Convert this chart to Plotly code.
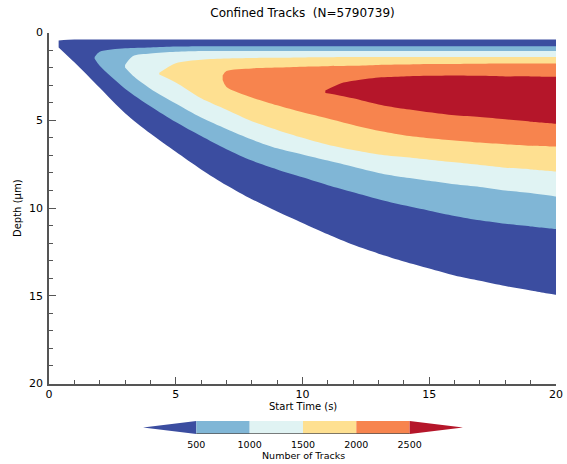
import plotly.graph_objects as go

# ---- data (depth boundaries in µm for each count level) ----
levels = [500, 1000, 1500, 2000, 2500]
band_colors = ["#3b4da0", "#80b6d6", "#e0f3f3", "#fee091", "#f7844e", "#b5162a"]

# region with any tracks
t0 = [0.38, 1, 2, 3, 4, 5, 6, 7, 8, 9, 10, 11, 12, 13, 14, 15, 16, 17, 18, 19, 20]
top0 = [0.45] + [0.4] * 20
bot0 = [0.85, 1.7, 3.15, 4.6, 5.76, 6.8, 7.8, 8.7, 9.5, 10.2, 10.85, 11.5, 12.1,
        12.6, 13.05, 13.45, 13.85, 14.15, 14.45, 14.7, 14.95]

# > 500 tracks
t1 = [1.8, 2, 3, 4, 5, 6, 7, 8, 9, 10, 11, 12, 13, 14, 15, 16, 17, 18, 19, 20]
top1 = [1.4, 1.1, 0.9, 0.85, 0.8] + [0.78] * 15
bot1 = [1.5, 1.9, 3.2, 4.2, 5.1, 5.9, 6.65, 7.3, 7.8, 8.25, 8.7, 9.1, 9.5, 9.85,
        10.15, 10.45, 10.7, 10.9, 11.05, 11.2]

# > 1000 tracks
t2 = [3.0, 3.3, 4, 5, 6, 7, 8, 9, 10, 11, 12, 13, 14, 15, 16, 17, 18, 19, 20]
top2 = [1.85, 1.35, 1.2, 1.1] + [1.05] * 15
bot2 = [2.0, 2.45, 3.2, 4.05, 4.85, 5.5, 6.1, 6.6, 6.95, 7.3, 7.65, 8.0, 8.25, 8.45,
        8.65, 8.8, 9.0, 9.15, 9.35]

# > 1500 tracks
t3 = [4.35, 5, 6, 7, 8, 9, 10, 11, 12, 13, 14, 15, 16, 17, 18, 19, 20]
top3 = [2.3, 1.75, 1.55, 1.48, 1.45, 1.44, 1.42, 1.41, 1.4, 1.4, 1.4, 1.4, 1.39,
        1.39, 1.39, 1.39, 1.39]
bot3 = [2.4, 2.85, 3.75, 4.4, 5.05, 5.55, 6.0, 6.4, 6.7, 6.95, 7.1, 7.25, 7.4, 7.55,
        7.7, 7.8, 7.92]

# > 2000 tracks
t4 = [6.85, 7, 8, 9, 10, 11, 12, 13, 14, 15, 16, 17, 18, 19, 20]
top4 = [2.45, 2.2, 2.05, 2.0, 1.95, 1.92, 1.9, 1.85, 1.83, 1.8, 1.79, 1.78, 1.77,
        1.76, 1.76]
bot4 = [2.7, 3.1, 3.7, 4.15, 4.55, 4.9, 5.27, 5.6, 5.85, 6.02, 6.15, 6.27, 6.37,
        6.45, 6.5]

# > 2500 tracks
t5 = [10.9, 11.5, 12, 13, 14, 15, 16, 17, 18, 19, 20]
top5 = [3.3, 2.9, 2.75, 2.56, 2.5, 2.47, 2.45, 2.47, 2.5, 2.5, 2.52]
bot5 = [3.45, 3.6, 3.75, 4.1, 4.35, 4.55, 4.72, 4.82, 4.95, 5.08, 5.2]

regions = [(t0, top0, bot0), (t1, top1, bot1), (t2, top2, bot2),
           (t3, top3, bot3), (t4, top4, bot4), (t5, top5, bot5)]

W, H = 567, 464
AX = "#555555"
FONT = "DejaVu Sans"

fig = go.Figure()

for (t, top, bot), col in zip(regions, band_colors):
    t, top, bot = list(t), list(top), list(bot)
    # repeat the right-edge corner points so the smoothed outline keeps square corners there
    xs = t + [t[-1], t[-1]] + t[::-1]
    ys = top + [top[-1], bot[-1]] + bot[::-1]
    fig.add_trace(go.Scatter(
        x=xs, y=ys,
        mode="lines", fill="toself", fillcolor=col,
        line=dict(width=0, color=col, shape="spline", smoothing=0.8),
        hoverinfo="skip", showlegend=False,
        xaxis="x", yaxis="y"))

# ---- horizontal colorbar with extension triangles ----
step = levels[1] - levels[0]
lo_tip = levels[0] - step
hi_tip = levels[-1] + step
fig.add_trace(go.Scatter(x=[lo_tip, levels[0], levels[0], lo_tip], y=[0.5, 1, 0, 0.5],
                         mode="lines", fill="toself", fillcolor=band_colors[0],
                         line=dict(width=0, color=band_colors[0]),
                         hoverinfo="skip", showlegend=False, xaxis="x2", yaxis="y2"))
for i in range(len(levels) - 1):
    a, b = levels[i], levels[i + 1]
    c = band_colors[i + 1]
    fig.add_trace(go.Scatter(x=[a, b, b, a, a], y=[0, 0, 1, 1, 0],
                             mode="lines", fill="toself", fillcolor=c,
                             line=dict(width=0, color=c),
                             hoverinfo="skip", showlegend=False,
                             xaxis="x2", yaxis="y2"))
fig.add_trace(go.Scatter(x=[levels[-1], hi_tip, levels[-1], levels[-1]], y=[0, 0.5, 1, 0],
                         mode="lines", fill="toself", fillcolor=band_colors[-1],
                         line=dict(width=0, color=band_colors[-1]),
                         hoverinfo="skip", showlegend=False, xaxis="x2", yaxis="y2"))
fig.add_trace(go.Scatter(x=[levels[0], levels[-1]], y=[0, 0], mode="lines",
                         line=dict(width=1.5, color=AX),
                         hoverinfo="skip", showlegend=False, xaxis="x2", yaxis="y2"))

px_x = lambda p: p / W
px_y = lambda p: 1 - p / H

fig.update_layout(
    width=W, height=H, autosize=False,
    margin=dict(l=0, r=0, t=0, b=0),
    paper_bgcolor="white", plot_bgcolor="white",
    font=dict(family=FONT, color="black", size=11),
    title=dict(text="Confined Tracks\u00a0\u00a0(N=5790739)",
               x=px_x(302.5), xref="paper", xanchor="center",
               y=px_y(13), yref="container", yanchor="middle",
               font=dict(size=12, family=FONT)),
    xaxis=dict(domain=[px_x(49), px_x(556)], range=[0, 20], anchor="y",
               tickmode="linear", tick0=0, dtick=5,
               ticks="inside", ticklen=7, tickwidth=1, tickcolor=AX,
               minor=dict(dtick=1, ticks="inside", ticklen=4, tickwidth=1, tickcolor=AX),
               showline=True, linecolor=AX, linewidth=1.5,
               showgrid=False, zeroline=False, automargin=False,
               tickfont=dict(size=11), fixedrange=True),
    yaxis=dict(domain=[px_y(383.5), px_y(32.5)], range=[20, 0], anchor="x",
               tickmode="linear", tick0=0, dtick=5,
               ticks="inside", ticklen=7, tickwidth=1, tickcolor=AX,
               minor=dict(dtick=1, ticks="inside", ticklen=4, tickwidth=1, tickcolor=AX),
               showline=True, linecolor=AX, linewidth=1.5,
               showgrid=False, zeroline=False, automargin=False,
               tickfont=dict(size=11), ticklabelstandoff=2, fixedrange=True),
    xaxis2=dict(domain=[px_x(143), px_x(463)], range=[lo_tip, hi_tip], anchor="y2",
                tickvals=levels, ticktext=[str(v) for v in levels],
                ticks="", showline=False, showgrid=False, zeroline=False,
                automargin=False, tickfont=dict(size=9.5), ticklabelstandoff=3,
                fixedrange=True),
    yaxis2=dict(domain=[px_y(434), px_y(421)], range=[0, 1], anchor="x2",
                visible=False, fixedrange=True),
    annotations=[
        dict(text="Start Time (s)", x=px_x(302.5), y=px_y(406), xref="paper", yref="paper",
             showarrow=False, xanchor="center", yanchor="middle", font=dict(size=10)),
        dict(text="Depth (µm)", x=px_x(17), y=px_y(208), xref="paper", yref="paper",
             showarrow=False, xanchor="center", yanchor="middle", textangle=-90,
             font=dict(size=10)),
        dict(text="Number of Tracks", x=px_x(303), y=px_y(455), xref="paper", yref="paper",
             showarrow=False, xanchor="center", yanchor="middle", font=dict(size=9.5)),
    ],
)

fig.write_html("out.html")
